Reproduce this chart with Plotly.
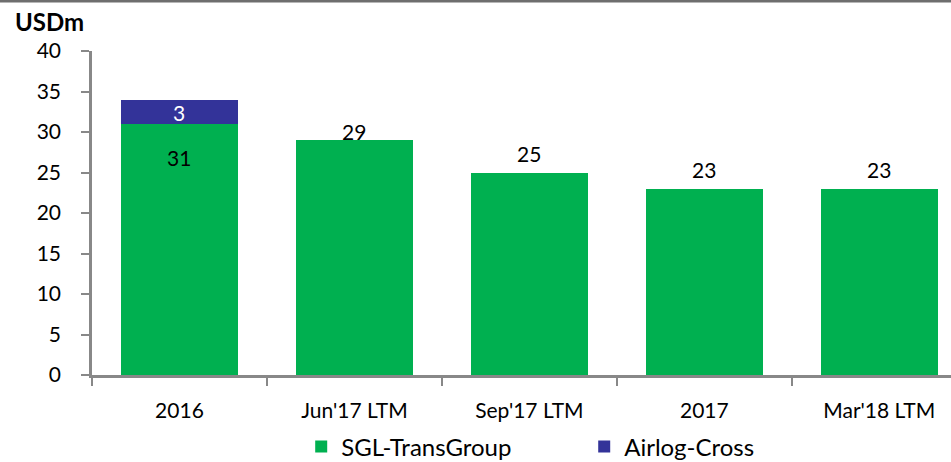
import plotly.graph_objects as go

categories = ["2016", "Jun'17 LTM", "Sep'17 LTM", "2017", "Mar'18 LTM"]
sgl_values = [31, 29, 25, 23, 23]
airlog_values = [3, None, None, None, None]
y_ticks = [0, 5, 10, 15, 20, 25, 30, 35, 40]

GREEN = "#00B050"
BLUE = "#333399"
AXIS = "#888888"
FONT = "Lato"

# pixel shift of each green value label relative to its bar top
label_shift = [-34, 9, 19, 19, 19]

fig = go.Figure()
fig.add_trace(go.Bar(
    x=categories, y=sgl_values, name="SGL-TransGroup",
    marker=dict(color=GREEN, line=dict(width=0)),
))
fig.add_trace(go.Bar(
    x=categories, y=airlog_values, name="Airlog-Cross",
    marker=dict(color=BLUE, line=dict(width=0)),
))

for i, (v, s) in enumerate(zip(sgl_values, label_shift)):
    fig.add_annotation(x=i, y=v, text=str(v), showarrow=False, yshift=s,
                       font=dict(size=21, color="black", family=FONT))
for i, (g, v) in enumerate(zip(sgl_values, airlog_values)):
    if v is not None:
        fig.add_annotation(x=i, y=g + v / 2, text=str(v), showarrow=False, yshift=-1,
                           font=dict(size=21, color="white", family=FONT))

fig.add_annotation(xref="paper", yref="paper", x=-0.049, y=1.09, xanchor="center",
                   yanchor="middle", text="<b>USDm</b>", showarrow=False,
                   font=dict(size=24, color="black", family=FONT))

fig.add_shape(type="line", xref="paper", yref="paper", x0=-0.2, x1=1.1,
              y0=1.154, y1=1.154, line=dict(color="#6e6e6e", width=3))

fig.update_layout(
    width=951, height=462,
    margin=dict(l=92, r=0, t=51, b=87, autoexpand=False),
    barmode="stack", bargap=0.33,
    plot_bgcolor="white", paper_bgcolor="white",
    font=dict(family=FONT, size=20, color="black"),
    showlegend=True,
    legend=dict(orientation="h", x=0.573, xanchor="center", y=-0.222, yanchor="middle",
                font=dict(size=24, family=FONT), entrywidth=238, entrywidthmode="pixels",
                traceorder="normal"),
)
fig.update_xaxes(
    type="category", range=[-0.5, 4.41], showgrid=False, showline=True, linecolor=AXIS,
    linewidth=2.5, ticks="outside", tickson="boundaries", ticklen=8, tickwidth=2,
    tickcolor=AXIS, tickfont=dict(size=21, family=FONT), ticklabelstandoff=15,
    automargin=False,
)
fig.update_yaxes(
    range=[0, 40], tickvals=y_ticks, showgrid=False, zeroline=False, showline=True,
    linecolor=AXIS, linewidth=2.5, ticks="outside", ticklen=8, tickwidth=2,
    tickcolor=AXIS, tickfont=dict(size=21, family=FONT), ticklabelstandoff=16,
    automargin=False,
)

fig.write_html("out.html")
